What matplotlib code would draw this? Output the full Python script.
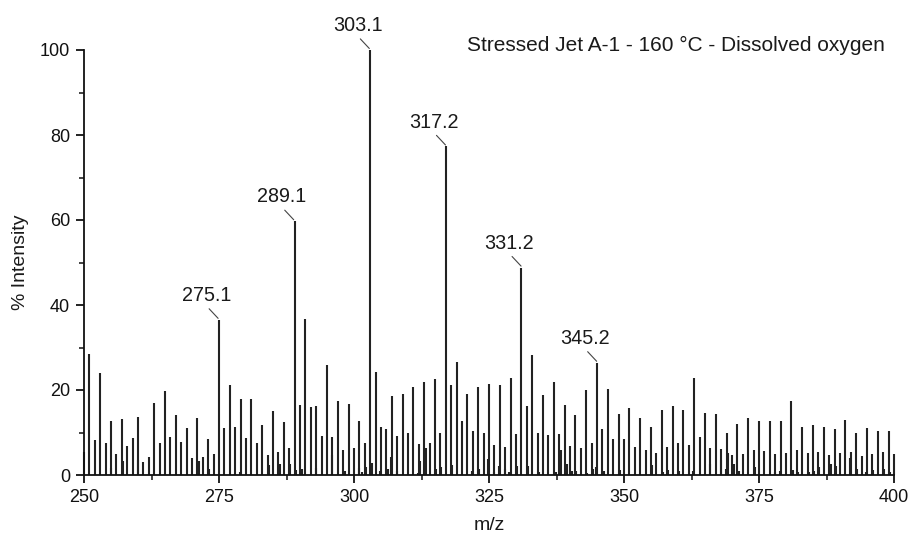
import numpy as np
import matplotlib
matplotlib.use("Agg")
import matplotlib.pyplot as plt
from matplotlib.ticker import MultipleLocator

plt.rcParams['font.family'] = ['Liberation Sans', 'DejaVu Sans']

# Main peaks: one per nominal m/z from 250 to 400
mz_major = np.arange(250, 401)
int_major = [
    5.5, 28.5, 8.2, 23.9, 7.6, 12.8, 4.9, 13.1, 6.8, 8.6,      # 250-259
    13.6, 3.0, 4.3, 17.0, 7.5, 19.8, 9.0, 14.1, 7.8, 11.1,     # 260-269
    3.9, 13.3, 4.3, 8.5, 4.9, 36.5, 11.0, 21.2, 11.4, 17.9,    # 270-279
    8.6, 17.8, 7.5, 11.8, 4.7, 15.0, 5.4, 12.5, 6.4, 59.7,     # 280-289
    16.5, 36.8, 15.9, 16.2, 9.2, 25.9, 8.9, 17.4, 5.9, 16.7,   # 290-299
    6.4, 12.8, 7.5, 100.0, 24.3, 11.2, 10.8, 18.6, 9.2, 19.0,  # 300-309
    9.8, 20.6, 7.2, 22.0, 7.5, 22.7, 9.8, 77.3, 21.1, 26.7,    # 310-319
    12.8, 19.1, 10.4, 20.6, 10.0, 21.4, 7.1, 21.1, 6.7, 22.9,  # 320-329
    9.6, 48.8, 16.2, 28.2, 10.0, 18.8, 9.4, 21.8, 9.6, 16.5,   # 330-339
    6.8, 14.1, 6.3, 20.0, 7.5, 26.4, 10.8, 20.2, 8.4, 14.4,    # 340-349
    8.4, 15.8, 6.5, 13.3, 5.9, 11.2, 5.1, 15.3, 6.5, 16.3,     # 350-359
    7.5, 15.3, 7.0, 22.9, 9.0, 14.7, 6.4, 14.4, 6.2, 9.8,      # 360-369
    4.7, 12.1, 4.9, 13.3, 6.0, 12.7, 5.7, 12.7, 4.9, 12.7,     # 370-379
    5.1, 17.4, 6.0, 11.2, 5.1, 11.8, 5.3, 11.2, 4.7, 10.8,     # 380-389
    5.1, 12.9, 5.3, 9.8, 4.5, 11.0, 4.9, 10.4, 5.3, 10.4,      # 390-399
    4.9,                                                       # 400
]

# Small satellite peaks near the baseline
mz_minor = [254.97, 257.24, 260.07, 271.24, 273.2, 278.9, 284.25, 286.3, 288.2,
            289.35, 290.3, 292.9, 295.9, 298.25, 300.9, 301.44, 302.2, 303.29,
            304.9, 306.36, 306.85, 307.9, 311.9, 312.3, 313.29, 315.26, 316.18,
            318.14, 321.9, 323.24, 324.9, 325.85, 326.9, 327.9, 328.76, 330.1,
            332.3, 334.2, 337.35, 338.33, 339.38, 340.3, 341.2, 343.2, 344.2,
            344.9, 346.3, 349.3, 355.2, 357.24, 358.2, 360.25, 362.8, 365.9,
            367.9, 368.85, 369.28, 370.3, 371.25, 374.2, 377.9, 378.9, 381.25,
            382.2, 384.2, 385.2, 386.2, 388.3, 389.2, 391.85, 393.2, 394.9,
            396.2, 398.1, 399.2]
int_minor = [1.6, 3.3, 3.5, 3.3, 1.3, 0.6, 2.4, 2.7, 2.7,
             1.2, 1.3, 1.6, 4.7, 1.0, 1.6, 0.8, 2.0, 2.9,
             1.0, 1.3, 4.3, 1.0, 0.5, 3.3, 6.4, 1.3, 2.0,
             2.4, 1.0, 1.3, 3.7, 0.8, 2.1, 1.3, 0.8, 2.1,
             2.1, 0.8, 0.8, 5.9, 2.5, 0.9, 0.9, 0.5, 1.3,
             2.0, 0.9, 1.2, 2.4, 0.8, 1.2, 1.0, 0.9, 2.7,
             3.5, 1.3, 5.1, 2.7, 0.9, 2.0, 0.8, 0.9, 1.2,
             0.8, 0.8, 1.0, 2.0, 2.6, 2.1, 3.9, 1.3, 0.6,
             1.2, 1.3, 0.8]

# Labelled peaks
label_mz = [275.1, 289.1, 303.1, 317.2, 331.2, 345.2]
label_int = [36.5, 59.7, 100.0, 77.3, 48.8, 26.4]
label_txt = ["275.1", "289.1", "303.1", "317.2", "331.2", "345.2"]

title_txt = "Stressed Jet A-1 - 160 \u00b0C - Dissolved oxygen"

fig = plt.figure(figsize=(9.11, 5.40), dpi=100)
ax = fig.add_axes([84 / 911, 65 / 540, 810 / 911, 425 / 540])

col = '#222222'
ax.vlines(mz_major, 0, int_major, color=col, lw=1.5, clip_on=False)
ax.vlines(mz_minor, 0, int_minor, color=col, lw=1.5)

for x, y, t in zip(label_mz, label_int, label_txt):
    ax.annotate('', xy=(x, y), xytext=(-7.5, 8.0), textcoords='offset points',
                arrowprops=dict(arrowstyle='-', color='#444444', lw=0.8,
                                shrinkA=0, shrinkB=1.5))
    ax.annotate(t, xy=(x, y), xytext=(-9.5, 17.5), textcoords='offset points',
                ha='center', va='center', fontsize=14.2, color='#1a1a1a',
                annotation_clip=False)

ax.set_xlim(250, 400)
ax.set_ylim(0, 100)
ax.xaxis.set_major_locator(MultipleLocator(25))
ax.xaxis.set_minor_locator(MultipleLocator(12.5))
ax.yaxis.set_major_locator(MultipleLocator(20))
ax.yaxis.set_minor_locator(MultipleLocator(10))

for s in ['top', 'right']:
    ax.spines[s].set_visible(False)
for s in ['left', 'bottom']:
    ax.spines[s].set_linewidth(1.3)
    ax.spines[s].set_color('#111111')

ax.tick_params(axis='both', which='major', direction='out', length=6, width=1.3,
               labelsize=13, colors='#111111', pad=4)
ax.tick_params(axis='both', which='minor', direction='out', length=3.5, width=1.1,
               colors='#111111')

ax.set_xlabel('m/z', fontsize=14, color='#1a1a1a', labelpad=8)
ax.set_ylabel('% Intensity', fontsize=14, color='#1a1a1a', labelpad=8)

fig.text(885 / 911, 1 - 45 / 540, title_txt, ha='right', va='center',
         fontsize=15, color='#1a1a1a')

fig.savefig('out.png', dpi=100)
